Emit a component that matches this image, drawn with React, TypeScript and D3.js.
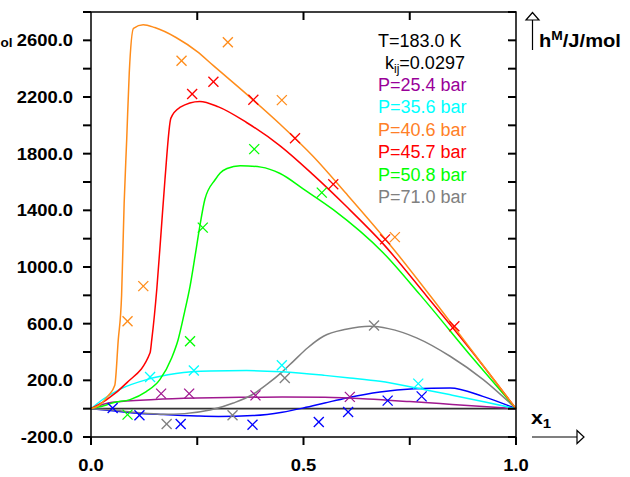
import React from "react";
import * as d3 from "d3";

// ---- data ----
const orangeX = [0, 0.02, 0.04, 0.056, 0.064, 0.072, 0.078, 0.084, 0.09, 0.1, 0.123, 0.15, 0.2, 0.25, 0.288, 0.366, 0.445, 0.523, 0.6, 0.7, 0.8, 0.9, 1];
const orangeY = [0, 25, 90, 165, 480, 800, 1450, 1900, 2370, 2685, 2710, 2690, 2620, 2520, 2421, 2220, 2008, 1780, 1520, 1170, 790, 395, 0];
const redX = [0, 0.037, 0.084, 0.139, 0.143, 0.155, 0.165, 0.174, 0.188, 0.209, 0.256, 0.3, 0.366, 0.445, 0.523, 0.6, 0.687, 0.79, 0.9, 1];
const redY = [0, 64, 182, 394, 487, 850, 1250, 1616, 2051, 2126, 2169, 2130, 2020, 1855, 1650, 1430, 1165, 794, 390, 0];
const greenX = [0, 0.03, 0.052, 0.092, 0.13, 0.162, 0.19, 0.205, 0.22, 0.233, 0.245, 0.256, 0.268, 0.292, 0.304, 0.32, 0.351, 0.4, 0.445, 0.5, 0.57, 0.688, 0.774, 0.9, 1];
const greenY = [0, 20, 42, 64, 120, 205, 360, 487, 680, 863, 1080, 1287, 1478, 1616, 1664, 1695, 1715, 1705, 1660, 1550, 1405, 1099, 805, 350, 0];
const cyanX = [0, 0.03, 0.07, 0.131, 0.2, 0.28, 0.366, 0.45, 0.55, 0.609, 0.68, 0.766, 0.85, 0.93, 1];
const cyanY = [0, 70, 140, 205, 248, 266, 269, 260, 235, 217, 193, 146, 95, 45, 0];
const purpleX = [0, 0.05, 0.15, 0.25, 0.35, 0.45, 0.55, 0.65, 0.75, 0.85, 1];
const purpleY = [0, 45, 65, 75, 80, 83, 80, 68, 50, 30, 0];
const blueX = [0, 0.05, 0.1, 0.17, 0.25, 0.3, 0.381, 0.45, 0.5, 0.55, 0.602, 0.68, 0.76, 0.845, 0.922, 1];
const blueY = [0, -15, -30, -42, -52, -55, -49, -25, 5, 40, 76, 118, 140, 146, 87, 0];
const grayX = [0, 0.05, 0.1, 0.17, 0.22, 0.28, 0.335, 0.38, 0.413, 0.45, 0.476, 0.51, 0.547, 0.6, 0.656, 0.7, 0.766, 0.845, 0.923, 1];
const grayY = [0, -10, -25, -40, -35, -10, 40, 100, 170, 260, 334, 430, 511, 560, 582, 565, 500, 370, 205, 0];

const orangeMx = [0.086, 0.123, 0.213, 0.322, 0.449, 0.715];
const orangeMy = [617, 865, 2456, 2586, 2178, 1211];
const redMx = [0.238, 0.288, 0.382, 0.48, 0.57, 0.692, 0.855];
const redMy = [2221, 2308, 2180, 1909, 1584, 1195, 582];
const greenMx = [0.086, 0.233, 0.263, 0.384, 0.543];
const greenMy = [-42, 476, 1278, 1832, 1525];
const cyanMx = [0.139, 0.242, 0.449, 0.77];
const cyanMy = [224, 269, 306, 177];
const purpleMx = [0.165, 0.231, 0.387, 0.609];
const purpleMy = [106, 106, 94, 83];
const grayMx = [0.178, 0.333, 0.456, 0.666];
const grayMy = [-108, -47, 217, 587];
const blueMx = [0.051, 0.114, 0.211, 0.38, 0.536, 0.605, 0.698, 0.778];
const blueMy = [5, -47, -108, -113, -94, -23, 57, 87];

const legendLabels = ["P=25.4 bar", "P=35.6 bar", "P=40.6 bar", "P=45.7 bar", "P=50.8 bar", "P=71.0 bar"];
const yLabelValues = [-200, 200, 600, 1000, 1400, 1800, 2200, 2600];
const xLabelValues = [0, 0.5, 1];

const C = {
  purple: "#a0188f",
  purpleLeg: "#990099",
  cyan: "#00ffff",
  orange: "#ff8c1a",
  orangeLeg: "#ff7f27",
  red: "#ff0000",
  green: "#00ff00",
  gray: "#808080",
  blue: "#0000ff",
};

const series = [
  { x: blueX, y: blueY, mx: blueMx, my: blueMy, c: C.blue },
  { x: purpleX, y: purpleY, mx: purpleMx, my: purpleMy, c: C.purple },
  { x: grayX, y: grayY, mx: grayMx, my: grayMy, c: C.gray },
  { x: cyanX, y: cyanY, mx: cyanMx, my: cyanMy, c: C.cyan },
  { x: greenX, y: greenY, mx: greenMx, my: greenMy, c: C.green },
  { x: redX, y: redY, mx: redMx, my: redMy, c: C.red },
  { x: orangeX, y: orangeY, mx: orangeMx, my: orangeMy, c: C.orange },
];
const legendColors = [C.purpleLeg, C.cyan, C.orangeLeg, C.red, C.green, C.gray];

const W = 630, H = 477;
const L = 91, R = 516, T = 12, B = 437;
const FONT = "'Liberation Sans', Arial, Helvetica, sans-serif";

export default function App() {
  const xs = d3.scaleLinear().domain([0, 1]).range([L, R]);
  const ys = d3.scaleLinear().domain([-200, 2800]).range([B, T]);
  const line = d3.line<[number, number]>().x(d => xs(d[0])).y(d => ys(d[1])).curve(d3.curveMonotoneX);
  const yTicks = d3.range(-200, 2801, 200);
  const xTicks = [0, 0.25, 0.5, 0.75, 1];
  const sx = 1.15;
  const fmt = (v: number) => v.toFixed(1);

  return (
    <svg width={W} height={H} style={{ position: "absolute", left: 0, top: 0, background: "#fff" }} fontFamily={FONT}>
      <rect width={W} height={H} fill="#fff" />
      {/* zero line */}
      <line x1={L} x2={R} y1={ys(0)} y2={ys(0)} stroke="#333" strokeWidth={1.6} />
      {/* curves */}
      {series.map((s, i) => (
        <path key={"c" + i} d={line(s.x.map((v, j) => [v, s.y[j]] as [number, number])) || ""} fill="none" stroke={s.c} strokeWidth={1.5} />
      ))}
      {/* markers */}
      {series.map((s, i) => (
        <g key={"m" + i} stroke={s.c} strokeWidth={1.3}>
          {s.mx.map((v, j) => {
            const cx = xs(v), cy = ys(s.my[j]);
            return (
              <g key={j}>
                <line x1={cx - 5} y1={cy - 5} x2={cx + 5} y2={cy + 5} />
                <line x1={cx - 5} y1={cy + 5} x2={cx + 5} y2={cy - 5} />
              </g>
            );
          })}
        </g>
      ))}
      {/* frame */}
      <path d={`M${L},${T}H${R}V${B}H${L}Z`} fill="none" stroke="#000" strokeWidth={1.5} />
      {yTicks.map(v => (
        <g key={"yt" + v} stroke="#000" strokeWidth={2}>
          <line x1={L - 8} x2={L} y1={ys(v)} y2={ys(v)} />
          <line x1={R - 8} x2={R} y1={ys(v)} y2={ys(v)} />
        </g>
      ))}
      {xTicks.map(v => (
        <g key={"xt" + v} stroke="#000" strokeWidth={2}>
          <line x1={xs(v)} x2={xs(v)} y1={B} y2={B + 8} />
          {v > 0 && v < 1 && <line x1={xs(v)} x2={xs(v)} y1={T} y2={T + 8} />}
        </g>
      ))}
      {/* y labels */}
      {yLabelValues.map(v => (
        <text key={"yl" + v} transform={`translate(73,${ys(v) + 6}) scale(${sx},1)`} textAnchor="end" fontSize={16} fontWeight="bold">
          {fmt(v)}
        </text>
      ))}
      {xLabelValues.map(v => (
        <text key={"xl" + v} transform={`translate(${xs(v)},${471}) scale(${sx},1)`} textAnchor="middle" fontSize={16} fontWeight="bold">
          {fmt(v)}
        </text>
      ))}
      {/* visible remainder of the left y label */}
      <text x={0.5} y={47} fontSize={13.5} fontWeight="bold">ol</text>
      {/* right y arrow and label */}
      <line x1={532.5} x2={532.5} y1={20} y2={50} stroke="#000" strokeWidth={1.2} />
      <path d="M526,20L532.5,12.5L539,20Z" fill="#fff" stroke="#000" strokeWidth={1.2} />
      <text transform={`translate(539,47) scale(${sx},1)`} fontSize={17.5} fontWeight="bold">
        h<tspan fontSize={12} dy={-7.5}>M</tspan><tspan dy={7.5}>/J/mol</tspan>
      </text>
      {/* x arrow and label */}
      <line x1={532} x2={577} y1={437} y2={437} stroke="#000" strokeWidth={1.2} />
      <path d="M577,430.5L584,437L577,443.5Z" fill="#fff" stroke="#000" strokeWidth={1.2} />
      <text transform={`translate(531,424) scale(${sx},1)`} fontSize={18.5} fontWeight="bold">
        x<tspan fontSize={13} dy={4}>1</tspan>
      </text>
      {/* legend */}
      <text x={378} y={46.7} fontSize={18}>T=183.0 K</text>
      <text x={385} y={68.8} fontSize={18}>
        k<tspan fontSize={12} dy={4}>ij</tspan><tspan dy={-4}>=0.0297</tspan>
      </text>
      {legendLabels.map((t, i) => (
        <text key={t} x={378} y={90.8 + i * 22.5} fontSize={18} fill={legendColors[i]}>{t}</text>
      ))}
    </svg>
  );
}
